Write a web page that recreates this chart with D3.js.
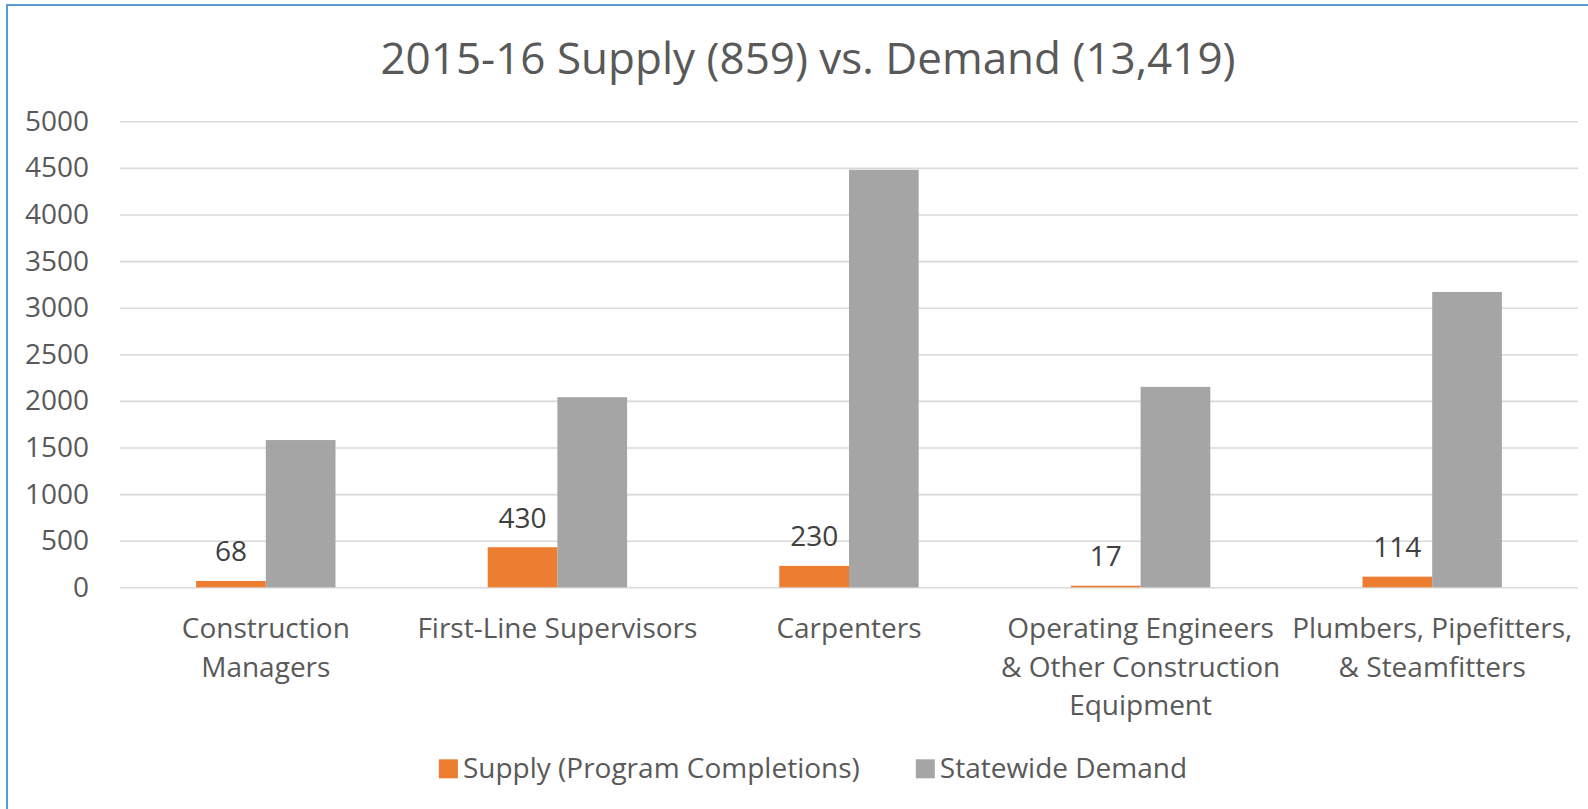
<!DOCTYPE html>
<html>
<head>
<meta charset="utf-8">
<script src="https://cdn.jsdelivr.net/npm/d3@7"></script>
<style>
  html, body { margin: 0; padding: 0; background: #fff; }
  svg { display: block; }
  text { font-family: "Open Sans", "Noto Sans", sans-serif; }
</style>
</head>
<body>
<svg id="chart"></svg>
<script>
// ── Data ────────────────────────────────────────────────────────────────────
var categories = [
  "Construction Managers",
  "First-Line Supervisors",
  "Carpenters",
  "Operating Engineers & Other Construction Equipment",
  "Plumbers, Pipefitters, & Steamfitters"
];
var seriesNames = ["Supply (Program Completions)", "Statewide Demand"];
var supply = [68, 430, 230, 17, 114];
var demand = [1580, 2040, 4480, 2150, 3169];
var yTicks = [0, 500, 1000, 1500, 2000, 2500, 3000, 3500, 4000, 4500, 5000];
var titleText = "2015-16 Supply (859) vs. Demand (13,419)";

(function () {
  "use strict";

  var width = 1588, height = 809;
  var C = {
    supply: "#ED7D31",
    demand: "#A5A5A5",
    grid: "#D9D9D9",
    text: "#595959",
    label: "#404040",
    border: "#5B9BD5"
  };
  var plot = { left: 120, right: 1578, top: 121.3, bottom: 587.3 };

  var svg = d3.select("#chart")
    .attr("width", width)
    .attr("height", height);

  // chart frame (only top + left edges visible in the crop)
  svg.append("path")
    .attr("d", "M7,809 V5 H1588")
    .attr("fill", "none")
    .attr("stroke", C.border)
    .attr("stroke-width", 2);

  // ── Scales ────────────────────────────────────────────────────────────────
  var x0 = d3.scaleBand()
    .domain(categories)
    .range([plot.left, plot.right])
    .paddingInner(0.522)
    .paddingOuter(0.261);

  var x1 = d3.scaleBand()
    .domain(seriesNames)
    .range([0, x0.bandwidth()]);

  var y = d3.scaleLinear()
    .domain([0, 5000])
    .range([plot.bottom, plot.top]);

  // ── Grid + y axis ───────────────────────────────────────────────────────────
  var yAxis = d3.axisLeft(y)
    .tickValues(yTicks)
    .tickSize(-(plot.right - plot.left))
    .tickPadding(31)
    .tickFormat(d3.format("d"));

  var gy = svg.append("g")
    .attr("transform", "translate(" + plot.left + ",0)")
    .call(yAxis);
  gy.select(".domain").remove();
  gy.selectAll(".tick line")
    .attr("stroke", C.grid)
    .attr("stroke-width", 1.6);
  gy.selectAll(".tick text")
    .attr("fill", C.text)
    .attr("font-size", "28px")
    .attr("font-family", "'Open Sans', sans-serif");

  // ── Bars ──────────────────────────────────────────────────────────────────
  var rows = categories.map(function (c, i) {
    return { cat: c, values: [
      { key: seriesNames[0], value: supply[i], color: C.supply },
      { key: seriesNames[1], value: demand[i], color: C.demand }
    ] };
  });

  var groups = svg.append("g")
    .selectAll("g")
    .data(rows)
    .join("g")
    .attr("transform", function (d) { return "translate(" + x0(d.cat) + ",0)"; });

  groups.selectAll("rect")
    .data(function (d) { return d.values; })
    .join("rect")
    .attr("x", function (d) { return x1(d.key); })
    .attr("y", function (d) { return y(d.value); })
    .attr("width", x1.bandwidth())
    .attr("height", function (d) { return y(0) - y(d.value); })
    .attr("fill", function (d) { return d.color; });

  // data labels on supply bars
  groups.append("text")
    .text(function (d) { return d.values[0].value; })
    .attr("x", x1(seriesNames[0]) + x1.bandwidth() / 2)
    .attr("y", function (d) { return y(d.values[0].value) - 19.5; })
    .attr("text-anchor", "middle")
    .attr("font-size", "28px")
    .attr("fill", C.label);

  // ── Category labels ─────────────────────────────────────────────────────────
  svg.append("g")
    .selectAll("text")
    .data(categories)
    .join("text")
    .attr("x", function (d) { return x0(d) + x0.bandwidth() / 2; })
    .attr("y", 638.3)
    .attr("text-anchor", "middle")
    .attr("font-size", "28px")
    .attr("fill", C.text)
    .text(function (d) { return d; })
    .call(wrapText, 282, 38.5);

  // ── Title ─────────────────────────────────────────────────────────────────
  svg.append("text")
    .attr("x", 808)
    .attr("y", 74)
    .attr("text-anchor", "middle")
    .attr("font-size", "44px")
    .attr("fill", C.text)
    .text(titleText);

  // ── Legend ────────────────────────────────────────────────────────────────
  var legend = svg.append("g");
  var lx = 0;
  var legendColors = [C.supply, C.demand];
  seriesNames.forEach(function (name, i) {
    var item = legend.append("g").attr("transform", "translate(" + lx + ",0)");
    item.append("rect")
      .attr("x", 0).attr("y", 759.3)
      .attr("width", 19).attr("height", 19)
      .attr("fill", legendColors[i]);
    var t = item.append("text")
      .attr("x", 24).attr("y", 778)
      .attr("font-size", "28px")
      .attr("fill", C.text)
      .text(name);
    lx += 24 + t.node().getComputedTextLength() + 56;
  });
  var lw = lx - 56;
  legend.attr("transform", "translate(" + (813 - lw / 2) + ",0)");

  // ── Utility: wrap SVG text to a max pixel width ───────────────────────────
  function wrapText(textSel, maxWidth, lineHeight) {
    textSel.each(function () {
      var text = d3.select(this);
      var words = text.text().split(/\s+/).reverse();
      var x = text.attr("x");
      var tspan = text.text(null).append("tspan").attr("x", x).attr("dy", 0);
      var line = [];
      var word;
      while ((word = words.pop())) {
        line.push(word);
        tspan.text(line.join(" "));
        if (tspan.node().getComputedTextLength() > maxWidth && line.length > 1) {
          line.pop();
          tspan.text(line.join(" "));
          line = [word];
          tspan = text.append("tspan")
            .attr("x", x)
            .attr("dy", lineHeight)
            .text(word);
        }
      }
    });
  }
})();
</script>
</body>
</html>
